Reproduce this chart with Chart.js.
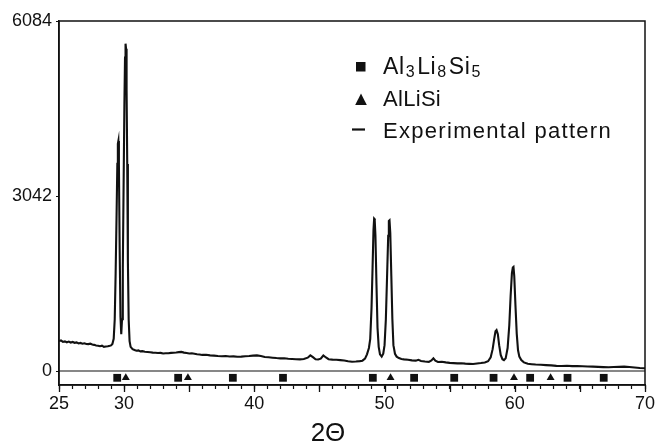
<!DOCTYPE html>
<html><head><meta charset="utf-8">
<script src="https://cdn.jsdelivr.net/npm/chart.js@4"></script>
<style>html,body{margin:0;padding:0;background:#fff;overflow:hidden}canvas{display:block}</style>
</head><body><canvas id="c" width="657" height="442" style="width:657px;height:442px"></canvas>
<script>
// 2-theta positions of the experimental pattern
const twoTheta = [
25.0,25.15,25.3,25.45,25.6,25.75,25.9,26.05,26.2,26.35,26.5,26.65,26.8,26.95,27.1,27.25,27.4,27.55,27.7,27.85,28.0,28.15,28.3,28.45,28.6,28.75,28.9,29.0,29.1,
29.2,29.28,29.35,29.42,29.48,29.52,29.56,29.6,29.66,29.72,29.78,
29.84,29.9,29.96,30.02,30.07,30.11,30.15,30.19,30.24,30.29,30.35,30.42,
30.5,30.65,30.8,30.95,31.1,31.25,31.4,31.6,31.8,32.0,32.2,32.4,32.6,32.8,33.0,33.2,33.4,33.6,33.8,34.0,34.2,34.4,34.6,34.8,35.0,35.2,35.4,35.6,35.8,36.0,36.3,36.6,36.9,37.2,37.5,37.8,38.1,38.4,38.7,39.0,39.3,39.6,39.9,40.2,40.5,40.8,41.1,41.4,41.7,42.0,42.3,42.6,42.9,43.2,43.5,43.8,44.1,44.3,44.5,44.7,44.9,45.1,45.3,45.5,45.7,46.0,46.3,46.6,46.9,47.2,47.5,47.8,48.1,48.3,48.5,
48.65,48.8,48.9,49.0,49.08,49.15,49.2,49.24,49.3,49.38,49.46,49.55,49.65,49.78,49.9,50.0,50.1,50.2,50.28,50.33,50.38,50.44,50.52,50.6,50.68,50.8,50.93,
51.1,51.3,51.5,51.8,52.1,52.4,52.6,52.8,53.1,53.4,53.6,53.75,53.9,54.1,54.4,54.7,55.0,55.3,55.6,55.9,56.2,56.5,56.8,57.1,57.4,57.7,57.95,
58.15,58.3,58.42,58.52,58.6,58.7,58.8,58.92,59.05,59.17,59.3,59.45,59.58,59.68,59.78,59.85,59.9,59.96,60.05,60.15,60.25,60.35,60.5,60.7,
61.0,61.3,61.6,62.0,62.4,62.8,63.2,63.6,64.0,64.4,64.8,65.2,65.6,66.0,66.4,66.8,67.2,67.6,68.0,68.4,68.8,69.2,69.6,70.0];
// measured intensity (counts)
const intensity = [
520,530,505,515,500,512,495,505,490,498,480,488,475,482,470,468,476,460,455,445,440,432,440,420,425,430,438,445,470,
560,900,1700,2700,3600,3950,4000,3600,2100,950,640,
900,1800,3200,4600,5450,5690,5600,4900,3600,1900,900,520,
420,380,365,352,358,342,345,336,330,325,320,318,312,315,305,308,310,315,318,322,328,332,320,312,305,308,300,292,288,280,284,272,268,262,258,262,252,255,248,250,258,262,268,272,262,245,240,232,225,220,222,212,208,205,203,210,232,272,240,205,200,215,270,235,205,198,195,190,182,170,162,165,172,180,215,
290,400,560,1100,1800,2450,2650,2640,2350,1500,750,420,290,250,300,450,900,1700,2350,2610,2620,2400,1650,900,450,300,250,
225,210,203,195,185,180,195,175,165,160,185,220,180,158,162,150,142,138,133,135,128,125,122,130,138,148,170,
240,380,560,690,710,640,450,280,205,190,220,400,800,1300,1700,1800,1810,1650,1150,650,360,250,190,150,
125,118,112,108,102,98,90,88,92,85,88,82,78,76,72,68,65,70,72,76,70,60,52,48];
// reference reflections
const al3li8si5Pos = [29.47, 34.15, 38.35, 42.2, 49.1, 52.27, 55.35, 58.37, 61.18, 64.05, 66.83];
const alLiSiPos = [30.13, 34.9, 50.46, 59.94, 62.75];
const markerLevel = -118;
const xTickLabels = [25, 30, 40, 50, 60, 70];
const yTickValues = [0, 3042, 6084];
const legendNames = ['Al3Li8Si5', 'AlLiSi', 'Experimental pattern'];
const xTitle = '2\u0398';

const FONT = '"Liberation Sans", Arial, Helvetica, sans-serif';
const INK = '#111';

const pattern = twoTheta.map((x, i) => ({x, y: intensity[i]}));
const zeroLine = [{x: 25, y: 0}, {x: 70, y: 0}];

function setSpacing(ctx, v) { try { ctx.letterSpacing = v; } catch (e) {} }

const extras = {
  id: 'extras',
  afterDraw(chart) {
    const {ctx, chartArea: a, scales: {x}} = chart;
    ctx.save();
    ctx.strokeStyle = INK;
    ctx.lineWidth = 1.5;
    ctx.strokeRect(a.left, a.top, a.right - a.left, a.bottom - a.top);
    // major ticks (longer)
    ctx.lineWidth = 1.3;
    for (let v = 25; v <= 70; v += 5) {
      const px = Math.round(x.getPixelForValue(v)) + 0.5;
      ctx.beginPath(); ctx.moveTo(px, a.bottom); ctx.lineTo(px, a.bottom + 7); ctx.stroke();
    }
    // legend
    ctx.fillStyle = INK;
    ctx.fillRect(356, 62, 9.5, 9.5);
    ctx.beginPath(); ctx.moveTo(361, 93.5); ctx.lineTo(366.8, 105); ctx.lineTo(355.2, 105); ctx.closePath(); ctx.fill();
    ctx.lineWidth = 2.2;
    ctx.beginPath(); ctx.moveTo(352, 129.5); ctx.lineTo(365, 129.5); ctx.stroke();
    ctx.textBaseline = 'alphabetic';
    ctx.textAlign = 'left';
    // formula with subscripts
    setSpacing(ctx, '0.6px');
    const parts = [['Al', false], ['3', true], ['Li', false], ['8', true], ['Si', false], ['5', true]];
    let tx = 383;
    for (const [t, sub] of parts) {
      ctx.font = (sub ? '16px ' : '23px ') + FONT;
      if (sub) tx += 1;
      ctx.fillText(t, tx, sub ? 77 : 74);
      tx += ctx.measureText(t).width + (sub ? 2 : 0);
    }
    setSpacing(ctx, '0.3px');
    ctx.font = '22px ' + FONT;
    ctx.fillText(legendNames[1], 383, 106);
    setSpacing(ctx, '1.3px');
    ctx.fillText(legendNames[2], 383, 138);
    setSpacing(ctx, '0px');
    // x title
    ctx.font = '26px ' + FONT;
    ctx.textAlign = 'center';
    ctx.fillText(xTitle, 328, 441);
    ctx.restore();
  }
};

new Chart(document.getElementById('c'), {
  type: 'scatter',
  data: {
    datasets: [
      {label: legendNames[2], data: pattern, showLine: true, borderColor: INK, borderWidth: 2.1, pointRadius: 0, tension: 0},
      {label: 'zero', data: zeroLine, showLine: true, borderColor: INK, borderWidth: 1.2, pointRadius: 0},
      {label: legendNames[0], data: al3li8si5Pos.map(v => ({x: v, y: markerLevel})), pointStyle: 'rect', pointRadius: 5.5, backgroundColor: INK, borderWidth: 0},
      {label: legendNames[1], data: alLiSiPos.map(v => ({x: v, y: markerLevel})), pointStyle: 'triangle', pointRadius: 4.6, backgroundColor: INK, borderWidth: 0}
    ]
  },
  options: {
    responsive: false, animation: false, devicePixelRatio: 1,
    layout: {padding: {top: 21, right: 12, left: 0, bottom: 0}, autoPadding: false},
    plugins: {legend: {display: false}, tooltip: {enabled: false}},
    scales: {
      x: {
        type: 'linear', min: 25, max: 70,
        afterFit: s => { s.height = 57; s.paddingLeft = 0; s.paddingRight = 0; },
        ticks: {stepSize: 1, autoSkip: false, maxRotation: 0, padding: 4, color: INK,
          font: {size: 18, family: FONT},
          callback: v => xTickLabels.includes(v) ? String(v) : ''},
        grid: {drawOnChartArea: false, drawTicks: true, tickLength: 4, color: INK, tickWidth: 1.2},
        border: {display: true, color: INK, width: 1.5}
      },
      y: {
        type: 'linear', min: -243, max: 6084,
        afterFit: s => { s.width = 59; s.paddingTop = 0; s.paddingBottom = 0; },
        afterBuildTicks: s => { s.ticks = yTickValues.map(v => ({value: v})); },
        ticks: {padding: 4, color: INK, font: {size: 18, family: FONT}, callback: v => String(v)},
        grid: {drawOnChartArea: false, drawTicks: true, tickLength: 3, color: INK, tickWidth: 1.2},
        border: {display: true, color: INK, width: 1.5}
      }
    }
  },
  plugins: [extras]
});
</script></body></html>
